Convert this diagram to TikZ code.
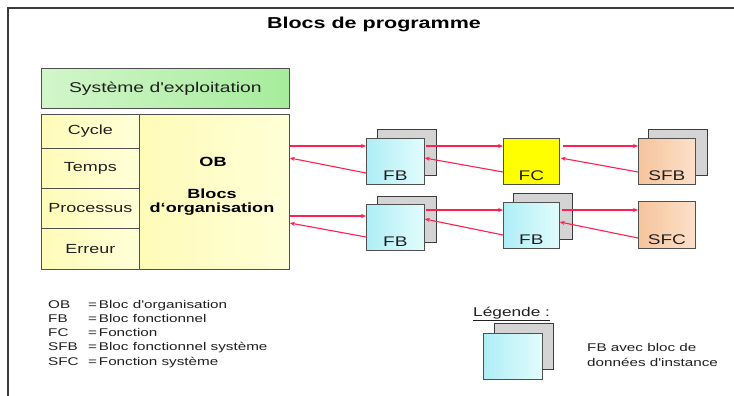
\documentclass[tikz,border=0pt]{standalone}
\usepackage{fontspec}
\setmainfont{Liberation Sans}[FakeStretch=1.36,Ligatures=TeXOff]
\usetikzlibrary{calc,arrows.meta}
\definecolor{arrc}{HTML}{FF2050}
\definecolor{txt}{HTML}{202020}
\definecolor{boxline}{HTML}{505050}
\definecolor{backline}{HTML}{3C3C3C}
\definecolor{backgray}{HTML}{D4D4D4}
\definecolor{fbL}{HTML}{AEEEF6}
\definecolor{fbR}{HTML}{E2FCFC}
\definecolor{sfL}{HTML}{F6C49C}
\definecolor{sfR}{HTML}{FCE0CA}
\definecolor{fcY}{HTML}{FFFF00}
\definecolor{sysL}{HTML}{D2F6CA}
\definecolor{sysR}{HTML}{A6EC9C}
\definecolor{obL}{HTML}{FFFBB8}
\definecolor{obR}{HTML}{FFFFD8}
\definecolor{framec}{HTML}{3A3A3A}
\tikzset{
  frontbox/.style={draw=boxline, line width=0.7pt, minimum width=58pt, minimum height=46pt, anchor=north west, inner sep=0pt},
  backbox/.style={draw=backline, fill=backgray, line width=0.9pt, minimum width=59pt, minimum height=46pt, anchor=north west, inner sep=0pt},
  cyanfill/.style={left color=fbL, right color=fbR},
  peachfill/.style={left color=sfL, right color=sfR},
  cell/.style={draw=boxline, line width=0.8pt, anchor=north west, inner sep=0pt, text=txt, font=\fontsize{13.2}{15}\selectfont, left color=obL, right color=obR},
  arr/.style={draw=arrc, color=arrc, line width=1.1pt, -{Stealth[length=5pt,width=4pt]}},
  lbl/.style={font=\fontsize{14}{14}\selectfont, anchor=base, inner sep=0pt, text=txt},
  legtxt/.style={font=\fontsize{11.2}{14.2}\selectfont, anchor=base west, inner sep=0pt, text=txt},
  obtxt/.style={font=\bfseries\fontsize{13.3}{14.5}\selectfont, inner sep=0pt, text=black, align=center}
}
\begin{document}
\begin{tikzpicture}[x=1pt,y=-1pt]
\useasboundingbox (0,0) rectangle (734,396);
\fill[white] (0,0) rectangle (734,396);
% frame
\coordinate (fa) at (8,396);
\coordinate (fb) at (8,8);
\coordinate (fc) at (734,8);
\draw[framec, line width=1.2pt] (fa) -- (fb) -- (fc);
% title
\node[font=\bfseries\fontsize{15.8}{16}\selectfont, anchor=base, inner sep=0pt, text=black] (title) at (374,29) {Blocs de programme};
% operating system and OB
\node[cell, minimum width=248pt, minimum height=40pt, left color=sysL, right color=sysR, font=\fontsize{14.2}{15}\selectfont] (sys) at (41,68) {Système d'exploitation};
\node[cell, minimum width=98pt, minimum height=34pt] (cyc) at (41,114) {Cycle};
\node[cell, minimum width=98pt, minimum height=40pt] (tmp) at (41,148) {Temps};
\node[cell, minimum width=98pt, minimum height=40pt] (pro) at (41,188) {Processus};
\node[cell, minimum width=98pt, minimum height=41pt] (err) at (41,228) {Erreur};
\node[cell, minimum width=150pt, minimum height=155pt] (ob) at (139,114) {};
\node[obtxt] (obt1) at (213,162) {OB};
\node[obtxt] (obt2) at (212,202) {Blocs\\d‘organisation};
% back boxes
\node[backbox] (fb1b) at (377,129) {};
\node[backbox] (sfbb) at (648,129) {};
\node[backbox] (fb2b) at (377,196) {};
\node[backbox] (fb3b) at (513,193) {};
\node[backbox] (legb) at (494,323) {};
% front boxes
\node[frontbox, cyanfill] (fb1) at (366,138) {};
\node[frontbox, fill=fcY, minimum width=56pt] (fcn) at (503,138) {};
\node[frontbox, peachfill, minimum width=57pt] (sfb) at (638,138) {};
\node[frontbox, cyanfill] (fb2) at (366,204) {};
\node[frontbox, cyanfill, minimum width=56pt] (fb3) at (503,202) {};
\node[frontbox, peachfill, minimum width=57pt, minimum height=47pt] (sfc) at (638,201) {};
\node[frontbox, cyanfill, minimum width=59pt] (leg) at (483,333) {};
% labels
\node[lbl] (l1) at ([yshift=4pt]fb1.south) {FB};
\node[lbl] (l2) at ([yshift=4pt]fcn.south) {FC};
\node[lbl] (l3) at ([yshift=4pt]sfb.south) {SFB};
\node[lbl] (l4) at ([yshift=4pt]fb2.south) {FB};
\node[lbl] (l5) at ([yshift=4pt]fb3.south) {FB};
\node[lbl] (l6) at ([yshift=4pt]sfc.south) {SFC};
% arrows row 1
\draw[arr] ($(ob.east|-fb1.north)+(0,8)$) -- ($(fb1.north west)+(0,8)$);
\draw[arr] ($(fb1.north west)+(0,35)$) -- ($(ob.east|-fb1.north)+(0,20)$);
\draw[arr] ($(fb1.north east)+(1,8)$) -- ($(fcn.north west)+(0,8)$);
\draw[arr] ($(fcn.north west)+(0,34)$) -- ($(fb1.north east)+(0,20)$);
\draw[arr] ($(fcn.north east)+(3,8)$) -- ($(sfb.north west)+(0,8)$);
\draw[arr] ($(sfb.north west)+(0,34)$) -- ($(fcn.north east)+(1,20)$);
% arrows row 2
\draw[arr] ($(ob.east|-fb2.north)+(0,12)$) -- ($(fb2.north west)+(0,12)$);
\draw[arr] ($(fb2.north west)+(0,33)$) -- ($(ob.east|-fb2.north)+(0,19)$);
\draw[arr] ($(fb2.north east)+(1,6)$) -- ($(fb3.north west)+(0,8)$);
\draw[arr] ($(fb3.north west)+(0,33)$) -- ($(fb2.north east)+(0,15)$);
\draw[arr] ($(fb3.north east)+(2,8)$) -- ($(sfc.north west)+(0,9)$);
\draw[arr] ($(sfc.north west)+(0,37)$) -- ($(fb3.north east)+(0,20)$);
% legend of abbreviations
\node[legtxt] (a1) at (48,308) {OB};
\node[legtxt] (a2) at (48,322.3) {FB};
\node[legtxt] (a3) at (48,336.5) {FC};
\node[legtxt] (a4) at (48,350.7) {SFB};
\node[legtxt] (a5) at (48,365) {SFC};
\node[legtxt] (b1) at (88,308) {=\,Bloc d'organisation};
\node[legtxt] (b2) at (88,322.3) {=\,Bloc fonctionnel};
\node[legtxt] (b3) at (88,336.5) {=\,Fonction};
\node[legtxt] (b4) at (88,350.7) {=\,Bloc fonctionnel système};
\node[legtxt] (b5) at (88,365) {=\,Fonction système};
% Legende
\node[font=\fontsize{12.7}{14}\selectfont, anchor=base west, inner sep=0pt, text=txt] (legt) at (473,316) {\underline{Légende :}};
\node[legtxt, align=left] (legd) at (587,366) {FB avec bloc de\\données d'instance};
\end{tikzpicture}
\end{document}
